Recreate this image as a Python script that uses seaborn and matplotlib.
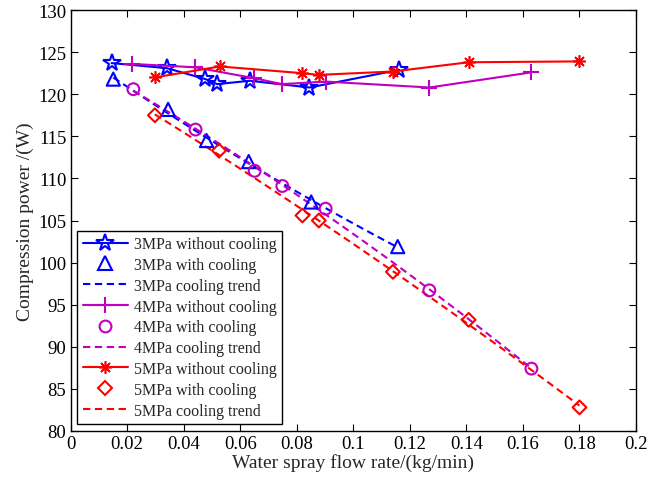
import numpy as np
import pandas as pd
import matplotlib
matplotlib.use("Agg")
import matplotlib.pyplot as plt
import seaborn as sns
from matplotlib.lines import Line2D

# Compression power vs. water spray flow rate at three discharge pressures
x3_dry = [0.0145, 0.034, 0.0477, 0.0518, 0.0634, 0.0845, 0.1163]
y3_dry = [123.7, 123.1, 121.8, 121.2, 121.6, 120.8, 122.9]
x3_wet = [0.0151, 0.0345, 0.0481, 0.063, 0.0851, 0.1157]
y3_wet = [121.8, 118.2, 114.5, 112.0, 107.2, 101.9]

x4_dry = [0.0218, 0.044, 0.065, 0.0748, 0.0902, 0.1269, 0.163]
y4_dry = [123.6, 123.2, 121.9, 121.2, 121.5, 120.8, 122.6]
x4_wet = [0.0222, 0.0442, 0.0651, 0.0749, 0.0902, 0.1269, 0.163]
y4_wet = [120.6, 115.8, 110.9, 109.1, 106.4, 96.7, 87.4]

x5_dry = [0.0298, 0.0528, 0.082, 0.0877, 0.114, 0.1408, 0.18]
y5_dry = [122.0, 123.3, 122.5, 122.3, 122.7, 123.8, 123.9]
x5_wet = [0.0298, 0.0525, 0.082, 0.0878, 0.114, 0.1408, 0.18]
y5_wet = [117.5, 113.3, 105.6, 105.0, 98.9, 93.2, 82.8]

pressures = ["3MPa", "4MPa", "5MPa"]
colors = ["#0000FF", "#BF00BF", "#FF0000"]

series = [
    (x3_dry, y3_dry, x3_wet, y3_wet),
    (x4_dry, y4_dry, x4_wet, y4_wet),
    (x5_dry, y5_dry, x5_wet, y5_wet),
]

# marker styles: (dry marker, size, face, edge width), (wet marker, size)
dry_styles = [("*", 13, "none", 1.5), ("+", 12, None, 1.5), ((8, 2, 0), 9, None, 1.2)]
wet_styles = [("^", 9.5), ("o", 8.5), ("D", 7)]
trend_ls = (0, (3.5, 2.2))

sns.set_theme(style="ticks")
plt.rcParams["font.family"] = ["Liberation Serif", "DejaVu Serif"]

fig = plt.figure(figsize=(6.66, 4.81), dpi=100)
ax = fig.add_axes([0.106, 0.102, 0.849, 0.875])

handles = []
for (xd, yd, xw, yw), p, c, (md, msd, fc, mew), (mw, msw) in zip(
        series, pressures, colors, dry_styles, wet_styles):
    dry = pd.DataFrame({"x": xd, "y": yd})
    wet = pd.DataFrame({"x": xw, "y": yw})
    face = c if fc is None else fc
    # measured power without water spray
    sns.lineplot(data=dry, x="x", y="y", sort=False, ax=ax, color=c, lw=1.5,
                 marker=md, markersize=msd, markerfacecolor=face,
                 markeredgecolor=c, markeredgewidth=mew)
    # measured power with water spray
    sns.scatterplot(data=wet, x="x", y="y", ax=ax, marker=mw, s=msw ** 2,
                    facecolors="none", edgecolor=c, linewidth=1.5, zorder=4)
    # quadratic trend of the cooled cases
    sns.regplot(data=wet, x="x", y="y", ax=ax, order=2, ci=None, scatter=False,
                truncate=True, line_kws=dict(color=c, ls=trend_ls, lw=1.5))

    handles += [
        Line2D([], [], color=c, lw=1.5, marker=md, markersize=msd,
               markerfacecolor=face, markeredgecolor=c, markeredgewidth=mew,
               label=f"{p} without cooling"),
        Line2D([], [], ls="none", marker=mw, markersize=msw,
               markerfacecolor="none", markeredgecolor=c,
               markeredgewidth=1.5, label=f"{p} with cooling"),
        Line2D([], [], color=c, ls=trend_ls, lw=1.5,
               label=f"{p} cooling trend"),
    ]

ax.set_xlim(0, 0.2)
ax.set_ylim(80, 130)
ax.set_xticks(np.arange(0, 0.2001, 0.02))
ax.set_xticklabels(["0", "0.02", "0.04", "0.06", "0.08", "0.1", "0.12",
                    "0.14", "0.16", "0.18", "0.2"])
ax.set_yticks(np.arange(80, 131, 5))
ax.tick_params(direction="in", length=5, width=0.8, labelsize=13.5,
               top=True, right=True, colors="black", pad=3)
for s in ax.spines.values():
    s.set_visible(True)
    s.set_linewidth(1.0)
    s.set_color("black")

ax.set_xlabel("Water spray flow rate/(kg/min)", fontsize=14, labelpad=1)
ax.set_ylabel("Compression power /(W)", fontsize=14, labelpad=3)

leg = ax.legend(handles=handles, loc="lower left",
                bbox_to_anchor=(0.012, 0.016), fontsize=11.5, frameon=True,
                fancybox=False, edgecolor="black", framealpha=1,
                handlelength=2.8, labelspacing=0.3, borderpad=0.35,
                handletextpad=0.4, borderaxespad=0)
leg.get_frame().set_linewidth(1.0)

fig.savefig("out.png", dpi=100)
